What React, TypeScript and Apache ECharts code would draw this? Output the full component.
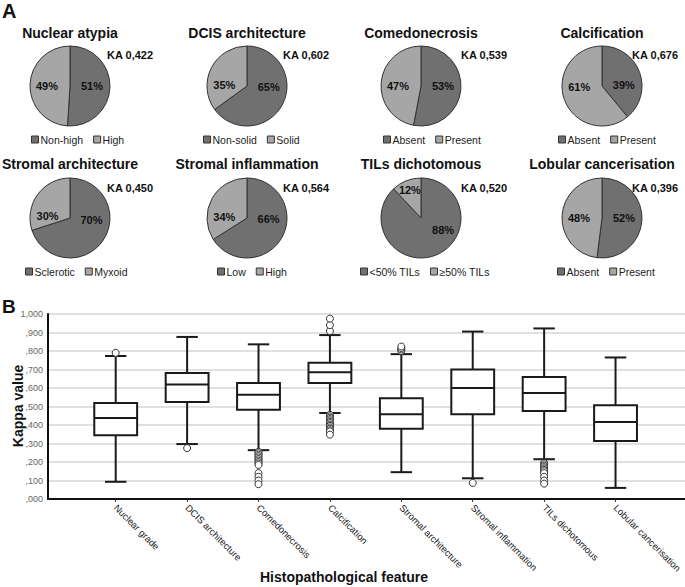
import React, { useEffect, useRef } from "react";
import * as echarts from "echarts";

// ---------- Data ----------
const pieTitles = ["Nuclear atypia", "DCIS architecture", "Comedonecrosis", "Calcification", "Stromal architecture", "Stromal inflammation", "TILs dichotomous", "Lobular cancerisation"];
const pieCategories = [["Non-high", "High"], ["Non-solid", "Solid"], ["Absent", "Present"], ["Absent", "Present"], ["Sclerotic", "Myxoid"], ["Low", "High"], ["<50% TILs", "≥50% TILs"], ["Absent", "Present"]];
const pieFirst = [51, 65, 53, 39, 70, 66, 88, 52];
const pieSecond = [49, 35, 47, 61, 30, 34, 12, 48];
const kappaAlpha = ["KA 0,422", "KA 0,602", "KA 0,539", "KA 0,676", "KA 0,450", "KA 0,564", "KA 0,520", "KA 0,396"];

const categories = ["Nuclear grade", "DCIS architecture", "Comedonecrosis", "Calcification", "Stromal architecture", "Stromal inflammation", "TILs dichotomous", "Lobular cancerisation"];
const lowWhisker = [0.093, 0.297, 0.264, 0.465, 0.145, 0.112, 0.215, 0.06];
const q1 = [0.345, 0.525, 0.482, 0.627, 0.38, 0.458, 0.476, 0.314];
const median = [0.438, 0.619, 0.563, 0.685, 0.458, 0.6, 0.573, 0.416];
const q3 = [0.519, 0.681, 0.627, 0.737, 0.545, 0.7, 0.66, 0.507];
const highWhisker = [0.773, 0.876, 0.836, 0.886, 0.783, 0.905, 0.922, 0.765];
const outliers = [
  [0.79],
  [0.275],
  [0.255, 0.248, 0.24, 0.232, 0.224, 0.216, 0.208, 0.2, 0.192, 0.184, 0.14, 0.12, 0.1, 0.08],
  [0.908, 0.94, 0.975, 0.455, 0.447, 0.44, 0.432, 0.425, 0.417, 0.41, 0.402, 0.395, 0.387, 0.38, 0.372, 0.365, 0.348],
  [0.8, 0.808, 0.816, 0.824],
  [0.087],
  [0.195, 0.188, 0.18, 0.172, 0.165, 0.157, 0.15, 0.14, 0.12, 0.1, 0.083],
  [],
];
const yTicks = [",000", ",100", ",200", ",300", ",400", ",500", ",600", ",700", ",800", ",900", "1,000"];

// ---------- Layout ----------
const FONT = "Arial, 'Liberation Sans', Helvetica, sans-serif";
const pieX = [70, 247, 421, 602];
const pieY = [86, 218];
const titleY = [33, 164];
const kaX = [107, 283, 461, 632];
const kaY = [55, 188];
const legendLeft = [31, 203, 383, 558, 25, 217, 360, 557];
const legendTop = [134, 266];
const DARK = "#707070";
const LIGHT = "#a6a6a6";
const PIE_R = 40;
// target label offsets from pie centre (first slice, second slice)
const labelTargetDefault = [[19, 0], [-20, 0]];
const labelTargetSmall = [[21, 9], [-10, -25]];

export default function App() {
  const ref = useRef<HTMLDivElement>(null);
  useEffect(() => {
    if (!ref.current) return;
    const chart = echarts.init(ref.current, null, { renderer: "svg" });

    const pieSeries: any[] = [];
    const legends: any[] = [];
    const graphics: any[] = [];
    for (let i = 0; i < 8; i++) {
      const col = i % 4;
      const row = Math.floor(i / 4);
      const a = pieFirst[i];
      const b = pieSecond[i];
      const total = a + b;
      const mids = [Math.PI * (a / total), 2 * Math.PI * ((a + b / 2) / total)];
      const targets = Math.min(a, b) < 20 ? labelTargetSmall : labelTargetDefault;
      pieSeries.push({
        type: "pie",
        center: [pieX[col], pieY[row]],
        radius: PIE_R,
        startAngle: 90,
        clockwise: true,
        silent: true,
        label: {
          show: true,
          position: "inside",
          formatter: "{c}%",
          fontSize: 11,
          fontWeight: "bold",
          color: "#111",
          fontFamily: FONT,
        },
        labelLayout: (p: any) => {
          const k = p.dataIndex;
          const th = mids[k];
          const defX = (PIE_R / 2) * Math.sin(th);
          const defY = -(PIE_R / 2) * Math.cos(th);
          return { dx: targets[k][0] - defX, dy: targets[k][1] - defY };
        },
        labelLine: { show: false },
        itemStyle: { borderColor: "#333", borderWidth: 1 },
        data: [
          { name: pieCategories[i][0], value: a, itemStyle: { color: DARK } },
          { name: pieCategories[i][1], value: b, itemStyle: { color: LIGHT } },
        ],
      });
      legends.push({
        data: pieCategories[i],
        left: legendLeft[i],
        top: legendTop[row],
        orient: "horizontal",
        icon: "rect",
        itemWidth: 7,
        itemHeight: 7,
        itemGap: 10,
        selectedMode: false,
        padding: 0,
        itemStyle: { borderColor: "#333", borderWidth: 1 },
        textStyle: { fontSize: 10.5, color: "#222", fontFamily: FONT, padding: [0, 0, 0, -3] },
      });
      graphics.push({
        type: "text",
        x: pieX[col],
        y: titleY[row],
        style: { text: pieTitles[i], fontSize: 14, fontWeight: "bold", fontFamily: FONT, fill: "#111", align: "center", verticalAlign: "middle" },
      });
      graphics.push({
        type: "text",
        x: kaX[col],
        y: kaY[row],
        style: { text: kappaAlpha[i], fontSize: 11, fontWeight: "bold", fontFamily: FONT, fill: "#111", align: "left", verticalAlign: "middle" },
      });
    }

    graphics.push(
      { type: "text", x: 2, y: 11, style: { text: "A", fontSize: 20, fontWeight: "bold", fontFamily: FONT, fill: "#111", align: "left", verticalAlign: "middle" } },
      { type: "text", x: 2, y: 306, style: { text: "B", fontSize: 19, fontWeight: "bold", fontFamily: FONT, fill: "#111", align: "left", verticalAlign: "middle" } },
      { type: "text", x: 18, y: 406, rotation: Math.PI / 2, style: { text: "Kappa value", fontSize: 14, fontWeight: "bold", fontFamily: FONT, fill: "#111", align: "center", verticalAlign: "middle" } },
      { type: "text", x: 344, y: 577, style: { text: "Histopathological feature", fontSize: 14, fontWeight: "bold", fontFamily: FONT, fill: "#111", align: "center", verticalAlign: "middle" } }
    );

    const boxData = categories.map((_, i) => [i, lowWhisker[i], q1[i], median[i], q3[i], highWhisker[i]]);
    const outlierData: number[][] = [];
    outliers.forEach((arr, i) => arr.forEach((v) => outlierData.push([i, v])));

    const option: any = {
      animation: false,
      backgroundColor: "#fff",
      textStyle: { fontFamily: FONT },
      grid: [
        { left: 48, right: 0, top: 314, height: 185, containLabel: false },
        { left: 80, width: 572, top: 314, height: 185, containLabel: false },
      ],
      xAxis: [
        {
          type: "value",
          gridIndex: 0,
          min: 0,
          max: 1,
          axisLine: { show: true, lineStyle: { color: "#111", width: 2 } },
          axisTick: { show: false },
          axisLabel: { show: false },
          splitLine: { show: false },
        },
        {
          type: "category",
          gridIndex: 1,
          data: categories,
          boundaryGap: true,
          axisLine: { show: false },
          axisTick: { show: true, alignWithLabel: true, length: 3, lineStyle: { color: "#333" } },
          axisLabel: { rotate: -45, fontSize: 9.5, color: "#222", margin: 7, fontFamily: FONT, interval: 0 },
          splitLine: { show: false },
        },
      ],
      yAxis: [
        {
          type: "value",
          gridIndex: 0,
          min: 0,
          max: 1,
          interval: 0.1,
          axisLine: { show: true, lineStyle: { color: "#111", width: 2 } },
          axisTick: { show: false },
          axisLabel: {
            fontSize: 9,
            color: "#666",
            margin: 5,
            fontFamily: FONT,
            formatter: (v: number) => yTicks[Math.round(v * 10)],
          },
          splitLine: { show: true, lineStyle: { color: "#d6d6d6", width: 1.5 } },
        },
        { type: "value", gridIndex: 1, min: 0, max: 1, show: false },
      ],
      legend: legends,
      graphic: graphics,
      series: [
        ...pieSeries,
        {
          type: "custom",
          xAxisIndex: 1,
          yAxisIndex: 1,
          encode: { x: 0, y: [1, 2, 3, 4, 5] },
          data: boxData,
          z: 3,
          renderItem: (params: any, api: any) => {
            const x = api.value(0);
            const lo = api.coord([x, api.value(1)]);
            const p1 = api.coord([x, api.value(2)]);
            const md = api.coord([x, api.value(3)]);
            const p3 = api.coord([x, api.value(4)]);
            const hi = api.coord([x, api.value(5)]);
            const bw = api.size([1, 0])[0] * 0.6;
            const half = bw / 2;
            const cap = bw / 4;
            const cx = lo[0];
            const st = { stroke: "#1a1a1a", lineWidth: 2, fill: null };
            return {
              type: "group",
              children: [
                { type: "line", shape: { x1: cx, y1: hi[1], x2: cx, y2: p3[1] }, style: st },
                { type: "line", shape: { x1: cx, y1: p1[1], x2: cx, y2: lo[1] }, style: st },
                { type: "line", shape: { x1: cx - cap, y1: hi[1], x2: cx + cap, y2: hi[1] }, style: st },
                { type: "line", shape: { x1: cx - cap, y1: lo[1], x2: cx + cap, y2: lo[1] }, style: st },
                { type: "rect", shape: { x: cx - half, y: p3[1], width: bw, height: p1[1] - p3[1] }, style: { fill: "#fff", stroke: "#1a1a1a", lineWidth: 2 } },
                { type: "line", shape: { x1: cx - half, y1: md[1], x2: cx + half, y2: md[1] }, style: st },
              ],
            };
          },
        },
        {
          type: "scatter",
          xAxisIndex: 1,
          yAxisIndex: 1,
          data: outlierData,
          symbol: "circle",
          symbolSize: 7,
          z: 4,
          silent: true,
          itemStyle: { color: "#fff", borderColor: "#333", borderWidth: 1, opacity: 1 },
        },
      ],
    };
    chart.setOption(option);
    return () => chart.dispose();
  }, []);
  return <div ref={ref} style={{ position: "absolute", left: 0, top: 0, width: 685, height: 587, background: "#fff" }} />;
}
